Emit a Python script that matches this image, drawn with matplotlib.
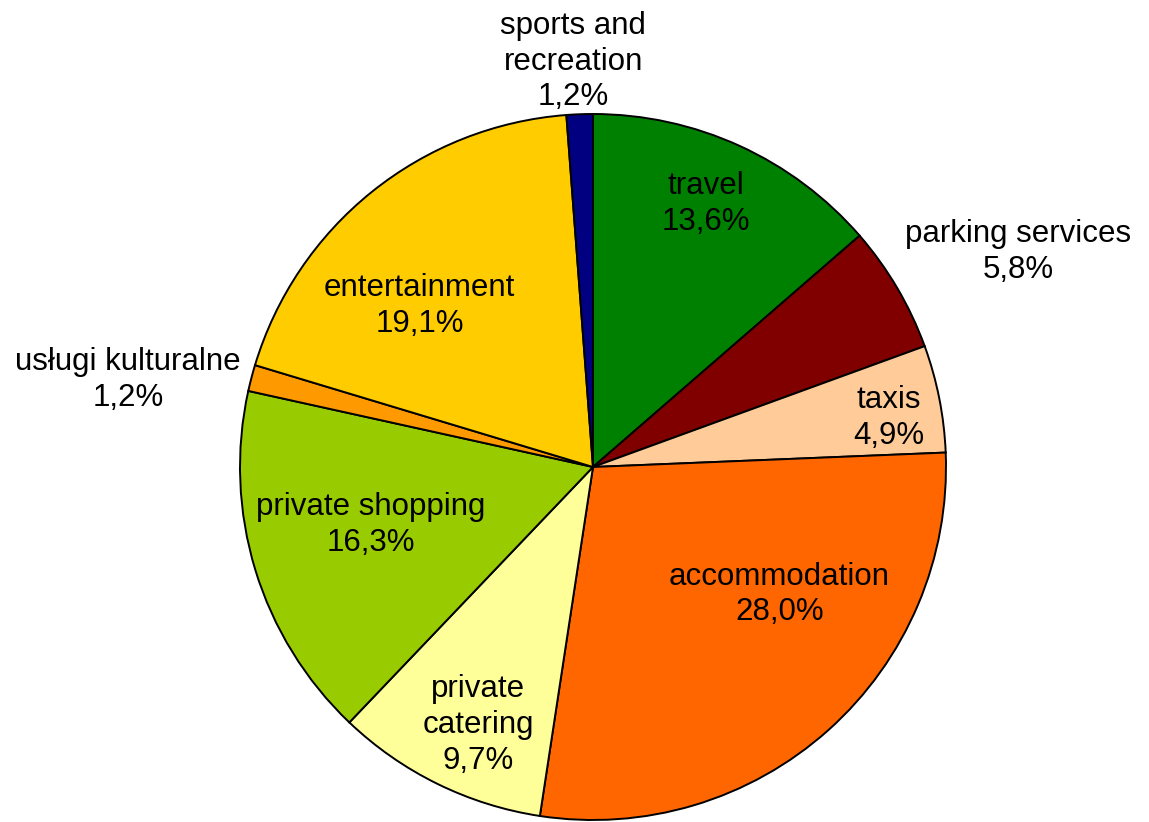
import numpy as np
import matplotlib.pyplot as plt

plt.rcParams['font.family'] = ['Liberation Sans', 'DejaVu Sans']

labels = ["travel", "parking services", "taxis", "accommodation", "private\ncatering",
          "private shopping", "usługi kulturalne", "entertainment", "sports and\nrecreation"]
shares = [13.6, 5.8, 4.9, 28.0, 9.7, 16.3, 1.2, 19.1, 1.2]
colors = ["#008000", "#800000", "#FFCC99", "#FF6600", "#FFFF99",
          "#99CC00", "#FF9900", "#FFCC00", "#000080"]

# label placement: (radius factor, angle shift in degrees)
label_pos = [(0.81, 1.3), (1.35, -3.7), (0.85, -1.8), (0.64, 13.8), (0.80, 2.2),
             (0.65, -2.4), (1.34, 4.0), (0.67, 8.4), (1.15, 0.6)]

W, H = 1149, 822
R = 353
cx, cy = 593, 822 - 467
lim = 1.1

fig = plt.figure(figsize=(W / 100, H / 100), dpi=100)
ax = fig.add_axes([(cx - R * lim) / W, (cy - R * lim) / H, 2 * R * lim / W, 2 * R * lim / H])

wedges, _ = ax.pie(shares, colors=colors, startangle=90, counterclock=False,
                   wedgeprops=dict(edgecolor="black", linewidth=1.4))
ax.set_xlim(-lim, lim)
ax.set_ylim(-lim, lim)
ax.set_aspect("equal")
ax.axis("off")

for w, lab, val, (r, dt) in zip(wedges, labels, shares, label_pos):
    ang = np.deg2rad((w.theta1 + w.theta2) / 2 + dt)
    txt = "%s\n%s%%" % (lab, ("%.1f" % val).replace(".", ","))
    ax.text(r * np.cos(ang), r * np.sin(ang), txt, ha="center", va="center",
            fontsize=22.5, linespacing=1.25, clip_on=False)

fig.savefig("out.png", dpi=100)
